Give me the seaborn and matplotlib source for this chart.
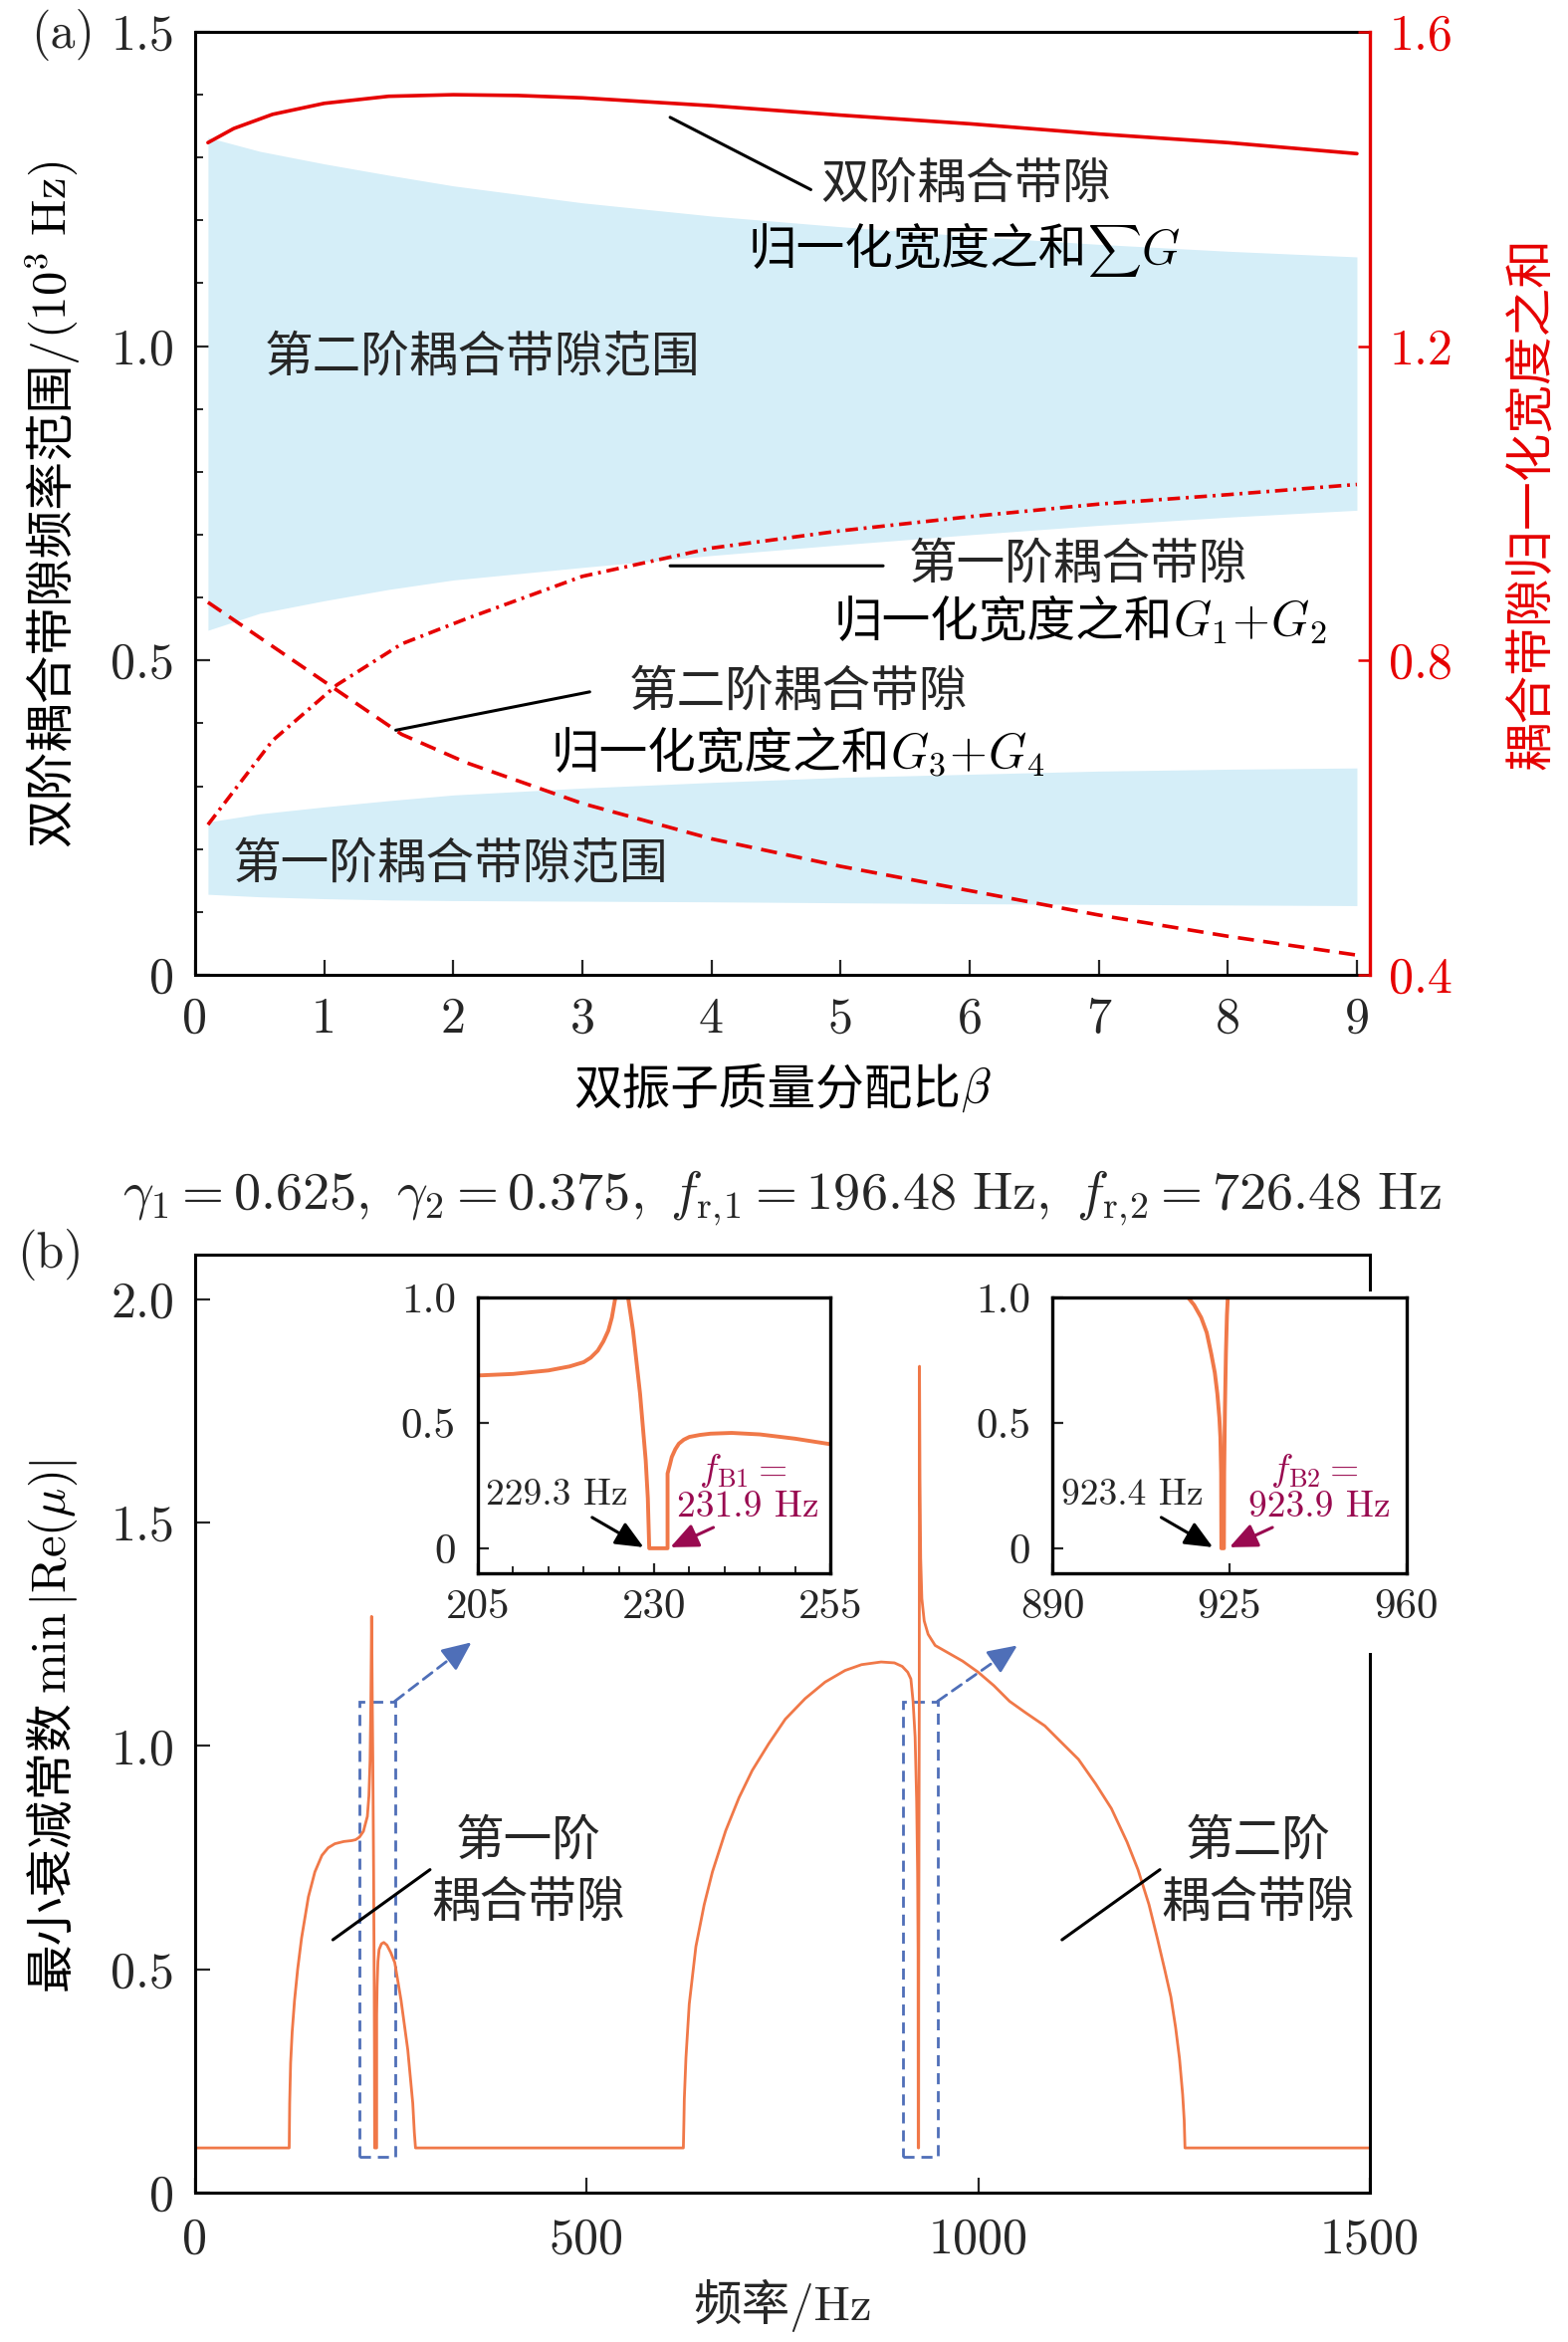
import matplotlib
matplotlib.use("Agg")
import matplotlib.pyplot as plt
import seaborn as sns
from matplotlib.patches import Rectangle
from matplotlib.ticker import MultipleLocator
from matplotlib.transforms import IdentityTransform

# ---------------- panel (a) data ----------------
beta_band = [0.1, 0.5, 1, 1.5, 2, 3, 4, 5, 6, 7, 8, 9]
band2_upper = [1.332, 1.31, 1.29, 1.272, 1.255, 1.228, 1.207, 1.19, 1.175, 1.162, 1.151, 1.142]
band2_lower = [0.548, 0.575, 0.595, 0.613, 0.628, 0.648, 0.667, 0.684, 0.70, 0.715, 0.728, 0.739]
band1_upper = [0.243, 0.256, 0.267, 0.277, 0.286, 0.297, 0.306, 0.314, 0.319, 0.324, 0.327, 0.329]
band1_lower = [0.128, 0.124, 0.121, 0.119, 0.118, 0.117, 0.116, 0.1145, 0.113, 0.112, 0.111, 0.110]

beta_sum = [0.1, 0.3, 0.6, 1.0, 1.5, 2.0, 2.5, 3, 4, 5, 6, 7, 8, 9]
sum_G = [1.459, 1.477, 1.495, 1.509, 1.518, 1.520, 1.519, 1.516, 1.506, 1.494, 1.483, 1.470, 1.459, 1.445]

beta_g = [0.1, 0.6, 1.1, 1.6, 2.1, 3, 4, 5, 6, 7, 8, 9]
G12 = [0.591, 0.698, 0.769, 0.821, 0.853, 0.907, 0.943, 0.965, 0.983, 0.999, 1.011, 1.024]
G34 = [0.874, 0.818, 0.762, 0.706, 0.670, 0.618, 0.573, 0.538, 0.507, 0.476, 0.449, 0.425]

x_ticks_a = [0, 1, 2, 3, 4, 5, 6, 7, 8, 9]
y_ticks_a = [0, 0.5, 1.0, 1.5]
y_labels_a = ["0", "0.5", "1.0", "1.5"]
y2_ticks_a = [0.4, 0.8, 1.2, 1.6]
y2_labels_a = ["0.4", "0.8", "1.2", "1.6"]

# ---------------- panel (b) data ----------------
freq_hz = [0, 120.2, 120.8, 122.0, 124.0, 127.0, 131.0, 136.0, 144.7, 153.0, 162.0, 170.0,
           178.5, 190.0, 200.0, 205.0, 210.0, 215.0, 220.0, 222.0, 223.5, 224.5, 225.0,
           225.4, 225.9, 226.3, 227.0, 228.0, 228.8, 229.1, 229.3, 231.9, 231.9, 232.5,
           233.5, 235.0, 238.0, 241.0, 245.0, 250.0, 255.0, 263.0, 271.6, 278.0, 280.0,
           281.5,
           623.5, 624.2, 624.7, 626.8, 631.0, 639.5, 650.0, 660.6, 677.5, 694.5, 711.4,
           732.5, 753.7, 779.0, 804.5, 830.0, 851.0, 876.0, 893.0, 903.0, 910.0, 914.0,
           916.8, 919.4, 921.4, 922.6, 923.2, 923.4, 923.9, 924.0, 924.3, 924.7, 925.0,
           925.6, 926.5, 928.0, 931.0, 936.0, 945.0, 960.0, 980.0, 1000.0, 1020.0,
           1040.0, 1060.0, 1085.0, 1105.0, 1128.0, 1150.0, 1170.0, 1190.0, 1204.0,
           1218.0, 1229.0, 1238.0, 1246.0, 1252.0, 1257.0, 1261.0, 1263.0, 1264.0, 1500.0]
min_re_mu = [0.1, 0.1, 0.2, 0.29, 0.36, 0.43, 0.5, 0.57, 0.662, 0.718, 0.755, 0.772,
             0.781, 0.786, 0.788, 0.790, 0.796, 0.809, 0.842, 0.888, 0.968, 1.1, 1.2,
             1.29, 1.2, 1.1, 0.968, 0.716, 0.451, 0.3, 0.1, 0.1, 0.398, 0.464,
             0.517, 0.544, 0.557, 0.56, 0.554, 0.537, 0.515, 0.431, 0.32, 0.2, 0.135,
             0.1,
             0.1, 0.16, 0.209, 0.302, 0.422, 0.551, 0.644, 0.718, 0.81, 0.884, 0.945,
             1.005, 1.06, 1.106, 1.143, 1.169, 1.182, 1.188, 1.186, 1.178, 1.165, 1.15,
             1.1, 1.02, 0.875, 0.716, 0.544, 0.1, 0.1, 0.45, 0.75, 1.1, 1.85,
             1.6, 1.42, 1.33, 1.28, 1.25, 1.225, 1.21, 1.19, 1.165, 1.135,
             1.10, 1.075, 1.045, 1.01, 0.97, 0.915, 0.86, 0.785, 0.723,
             0.645, 0.567, 0.5, 0.438, 0.37, 0.3, 0.22, 0.162, 0.1, 0.1]

# inset 1 (205-255 Hz)
freq_in1 = [205, 210, 215, 218, 220, 221, 222, 222.8, 223.5, 224.0, 224.5, 225.0, 225.4,
            225.9, 226.3, 227.0, 228.0, 228.8, 229.1, 229.3, 231.9, 231.9, 232.2, 232.5,
            233.0, 233.5, 234.2, 235.0, 236.5, 238.0, 241.0, 245.0, 250.0, 255.0]
val_in1 = [0.689, 0.695, 0.709, 0.725, 0.742, 0.76, 0.788, 0.825, 0.868, 0.92, 1.0, 1.1, 1.19,
           1.1, 1.0, 0.868, 0.616, 0.351, 0.2, 0.0, 0.0, 0.298, 0.33, 0.364,
           0.395, 0.417, 0.433, 0.444, 0.452, 0.457, 0.46, 0.454, 0.437, 0.415]
# inset 2 (890-960 Hz)
freq_in2 = [916.0, 916.8, 918.0, 919.4, 920.5, 921.4, 922.1, 922.6, 923.0, 923.2, 923.35,
            923.4, 923.9, 923.95, 924.1, 924.3, 924.5, 924.67, 924.9]
val_in2 = [1.05, 1.0, 0.97, 0.92, 0.86, 0.775, 0.70, 0.616, 0.52, 0.444, 0.3,
           0.0, 0.0, 0.3, 0.55, 0.78, 0.93, 1.0, 1.4]

x_ticks_b = [0, 500, 1000, 1500]
x_labels_b = ["0", "500", "1000", "1500"]
y_ticks_b = [0, 0.5, 1.0, 1.5, 2.0]
y_labels_b = ["0", "0.5", "1.0", "1.5", "2.0"]
in1_ticks = [205, 230, 255]
in2_ticks = [890, 925, 960]
in_yticks = [0, 0.5, 1.0]
in_ylabels = ["0", "0.5", "1.0"]

# ---------------- style ----------------
sns.set_style("ticks")
plt.rcParams["font.family"] = ["cmr10", "Noto Sans CJK SC", "DejaVu Sans"]
plt.rcParams["mathtext.fontset"] = "cm"
plt.rcParams["axes.formatter.use_mathtext"] = True
plt.rcParams["axes.unicode_minus"] = False

RED = "#e60000"
ORANGE = "#f07848"
BLUE = "#4f6fb8"
BAND = "#d5eef8"
MAG = "#990a50"
FS = 35
TFS = 36

fig = plt.figure(figsize=(15.75, 23.52), dpi=100)
renderer = fig.canvas.get_renderer()
W = fig.bbox.width
H = fig.bbox.height


def pair_text(x_px, y_px, parts, fontsize, color="black", rotation=0, sizes=None):
    """Centred line made of several pieces (plain CJK text and mathtext), in pixels."""
    if sizes is None:
        sizes = [fontsize] * len(parts)
    texts, lengths = [], []
    for p, fs in zip(parts, sizes):
        t = fig.text(0, 0, p, fontsize=fs, color=color, rotation=0,
                     rotation_mode="anchor", ha="left", va="baseline",
                     transform=IdentityTransform())
        lengths.append(t.get_window_extent(renderer).width)
        t.set_rotation(rotation)
        texts.append(t)
    total = sum(lengths)
    em = fontsize * fig.dpi / 72.0
    pos = -total / 2.0
    for t, L in zip(texts, lengths):
        if rotation == 90:
            t.set_position((x_px + 0.37 * em, y_px + pos))
        else:
            t.set_position((x_px + pos, y_px - 0.37 * em))
        pos += L
    return lengths


def data_px(ax, x, y):
    return ax.transData.transform((x, y))


axA = fig.add_axes([0.1244, 0.5838, 0.7492, 0.4026])
axB = fig.add_axes([0.1244, 0.0638, 0.7492, 0.4005])

# ---------------- panel (a) ----------------
axA.fill_between(beta_band, band2_lower, band2_upper, color=BAND, lw=0)
axA.fill_between(beta_band, band1_lower, band1_upper, color=BAND, lw=0)
axA.set_xlim(0, 9.1)
axA.set_ylim(0, 1.5)
axA.set_xticks(x_ticks_a)
axA.set_xticklabels([str(v) for v in x_ticks_a])
axA.set_yticks(y_ticks_a)
axA.set_yticklabels(y_labels_a)
axA.yaxis.set_minor_locator(MultipleLocator(0.1))
axA.tick_params(axis="both", which="major", direction="in", length=11, width=1.6,
                labelsize=TFS, top=False, right=False)
axA.tick_params(axis="x", pad=16)
axA.tick_params(axis="y", pad=15)
axA.tick_params(axis="y", which="minor", direction="in", length=6, width=1.4, right=False)
axA.tick_params(axis="x", which="minor", bottom=False, top=False)
for s in axA.spines.values():
    s.set_linewidth(2.2)
    s.set_color("black")
axA.spines["right"].set_visible(False)

axA2 = axA.twinx()
axA2.set_ylim(0.4, 1.6)
sns.lineplot(x=beta_sum, y=sum_G, ax=axA2, color=RED, lw=2.6, estimator=None, sort=False)
sns.lineplot(x=beta_g, y=G12, ax=axA2, color=RED, lw=2.6, estimator=None, sort=False,
             linestyle=(0, (3.5, 1.6, 0.8, 1.6)))
sns.lineplot(x=beta_g, y=G34, ax=axA2, color=RED, lw=2.6, estimator=None, sort=False,
             linestyle=(0, (4.5, 2.6)))
axA2.set_ylabel("")
axA2.set_yticks(y2_ticks_a)
axA2.set_yticklabels(y2_labels_a)
axA2.tick_params(axis="y", direction="in", length=9, width=1.8, colors=RED,
                 labelsize=TFS, pad=14)
axA2.yaxis.set_minor_locator(plt.NullLocator())
for k in ["left", "top", "bottom"]:
    axA2.spines[k].set_visible(False)
axA2.spines["right"].set_color(RED)
axA2.spines["right"].set_linewidth(2.4)

lead = dict(arrowstyle="-", color="black", lw=2.2, shrinkA=0, shrinkB=0)
axA.annotate("", xy=(3.68, 1.364), xytext=(4.77, 1.249), arrowprops=lead)
axA.text(5.97, 1.2565, "双阶耦合带隙", fontsize=FS, ha="center", va="center")
pair_text(*data_px(axA, 5.96, 1.160), ["归一化宽度之和", r"$\sum$", r"$G$"], FS,
          sizes=[FS, 27, FS])
axA.text(0.54, 0.982, "第二阶耦合带隙范围", fontsize=FS, ha="left", va="center")
axA.annotate("", xy=(3.68, 0.6505), xytext=(5.33, 0.6505), arrowprops=lead)
axA.text(6.84, 0.6505, "第一阶耦合带隙", fontsize=FS, ha="center", va="center")
pair_text(*data_px(axA, 6.86, 0.567), ["归一化宽度之和", r"$G_1\!+\!G_2$"], FS)
axA.annotate("", xy=(1.555, 0.389), xytext=(3.057, 0.450), arrowprops=lead)
axA.text(4.67, 0.448, "第二阶耦合带隙", fontsize=FS, ha="center", va="center")
pair_text(*data_px(axA, 4.67, 0.359), ["归一化宽度之和", r"$G_3\!+\!G_4$"], FS)
axA.text(0.294, 0.1745, "第一阶耦合带隙范围", fontsize=FS, ha="left", va="center")

fig.text(0.0197, 0.985, "(a)", fontsize=TFS, ha="left", va="center")
pair_text(0.0305 * W, 0.785 * H,
          ["双阶耦合带隙频率范围/", r"$(10^3\ \mathrm{Hz})$"], FS, rotation=90)
fig.text(0.977, 0.785, "耦合带隙归一化宽度之和", fontsize=FS, rotation=90,
         ha="center", va="center", color=RED)
pair_text(0.499 * W, 0.5366 * H, ["双振子质量分配比", r"$\beta$"], FS)

# ---------------- panel (b) ----------------
sns.lineplot(x=freq_hz, y=min_re_mu, ax=axB, color=ORANGE, lw=2.0, estimator=None, sort=False)
axB.set_xlim(0, 1500)
axB.set_ylim(0, 2.1)
axB.set_xlabel("")
axB.set_ylabel("")
axB.set_xticks(x_ticks_b)
axB.set_xticklabels(x_labels_b)
axB.set_yticks(y_ticks_b)
axB.set_yticklabels(y_labels_b)
axB.tick_params(axis="both", direction="in", length=11, width=1.6, labelsize=TFS,
                top=False, right=False)
axB.tick_params(axis="x", pad=18)
axB.tick_params(axis="y", pad=15)
for s in axB.spines.values():
    s.set_linewidth(2.2)
    s.set_color("black")

for (x0, x1) in [(210, 255), (904, 948)]:
    axB.add_patch(Rectangle((x0, 0.08), x1 - x0, 1.02, fill=False, ec=BLUE, lw=2.0,
                            ls=(0, (4, 2.5))))
for (start, tip) in [((255, 1.1), (353, 1.232)), ((948, 1.1), (1050, 1.225))]:
    mid = (start[0] + 0.72 * (tip[0] - start[0]), start[1] + 0.72 * (tip[1] - start[1]))
    axB.annotate("", xy=mid, xytext=start,
                 arrowprops=dict(arrowstyle="-", color=BLUE, lw=2.0, ls=(0, (4, 2.5)),
                                 shrinkA=0, shrinkB=0))
    axB.annotate("", xy=tip, xytext=mid,
                 arrowprops=dict(arrowstyle="-|>,head_length=0.45,head_width=0.2",
                                 color=BLUE, lw=2.0, shrinkA=0, shrinkB=0,
                                 mutation_scale=40))

axB.annotate("", xy=(176, 0.566), xytext=(300, 0.723), arrowprops=lead)
axB.text(425, 0.784, "第一阶", fontsize=FS, ha="center", va="center")
axB.text(425, 0.646, "耦合带隙", fontsize=FS, ha="center", va="center")
axB.annotate("", xy=(1107, 0.566), xytext=(1232, 0.723), arrowprops=lead)
axB.text(1357, 0.784, "第二阶", fontsize=FS, ha="center", va="center")
axB.text(1357, 0.646, "耦合带隙", fontsize=FS, ha="center", va="center")

fig.text(0.499, 0.4885,
         r"$\gamma_1=0.625,\ \gamma_2=0.375,\ f_{\mathrm{r},\!1}=196.48\ \mathrm{Hz},\ f_{\mathrm{r},\!2}=726.48\ \mathrm{Hz}$",
         fontsize=39, ha="center", va="center")
fig.text(0.0108, 0.4643, "(b)", fontsize=TFS, ha="left", va="center")
pair_text(0.0305 * W, 0.2636 * H,
          ["最小衰减常数", r"$\,\mathrm{min}\,\vert\mathrm{Re}(\mu)\vert$"], FS, rotation=90)
fig.text(0.499, 0.0157, "频率/Hz", fontsize=FS, ha="center", va="center")

# white mask that interrupts the main frame behind the right inset
fig.add_artist(Rectangle((0.660, 0.2942), 0.25, 0.1544, transform=fig.transFigure,
                         facecolor="white", edgecolor="none", zorder=2))

ins1 = fig.add_axes([0.3048, 0.3282, 0.2248, 0.1178], zorder=3)
ins2 = fig.add_axes([0.6713, 0.3282, 0.2256, 0.1178], zorder=3)
sns.lineplot(x=freq_in1, y=val_in1, ax=ins1, color=ORANGE, lw=2.8, estimator=None, sort=False)
sns.lineplot(x=freq_in2, y=val_in2, ax=ins2, color=ORANGE, lw=2.8, estimator=None, sort=False)
ins1.set_xlim(205, 255)
ins2.set_xlim(890, 960)
ins1.set_xticks(in1_ticks)
ins1.set_xticklabels([str(v) for v in in1_ticks])
ins1.xaxis.set_minor_locator(MultipleLocator(5))
ins2.set_xticks(in2_ticks)
ins2.set_xticklabels([str(v) for v in in2_ticks])
for ins in (ins1, ins2):
    ins.set_ylim(-0.1, 1.0)
    ins.set_yticks(in_yticks)
    ins.set_yticklabels(in_ylabels)
    ins.set_xlabel("")
    ins.set_ylabel("")
    ins.set_facecolor("white")
    ins.tick_params(axis="both", which="major", direction="in", length=8, width=1.6,
                    labelsize=31, top=False, right=False)
    ins.tick_params(axis="x", which="major", length=7, pad=11)
    ins.tick_params(axis="y", pad=16)
    ins.tick_params(axis="x", which="minor", direction="in", length=5, width=1.4, top=False)
    for s in ins.spines.values():
        s.set_linewidth(2.4)
        s.set_color("black")

AFS = 27
blk = dict(arrowstyle="-|>,head_length=0.5,head_width=0.22", color="black", lw=2.2,
           shrinkA=0, shrinkB=0, mutation_scale=34)
mag = dict(arrowstyle="-|>,head_length=0.5,head_width=0.22", color=MAG, lw=2.2,
           shrinkA=0, shrinkB=0, mutation_scale=34)
ins1.text(216.2, 0.212, "229.3 Hz", fontsize=AFS, ha="center", va="center")
ins1.annotate("", xy=(228.5, 0.004), xytext=(221.2, 0.123), arrowprops=blk)
ins1.text(242.6, 0.311, r"$f_{\mathrm{B1}}=$", fontsize=AFS, ha="center", va="center", color=MAG)
ins1.text(243.3, 0.166, "231.9 Hz", fontsize=AFS, ha="center", va="center", color=MAG)
ins1.annotate("", xy=(232.3, 0.004), xytext=(238.4, 0.083), arrowprops=mag)

ins2.text(905.7, 0.212, "923.4 Hz", fontsize=AFS, ha="center", va="center")
ins2.annotate("", xy=(921.7, 0.004), xytext=(911.5, 0.123), arrowprops=blk)
ins2.text(941.8, 0.311, r"$f_{\mathrm{B2}}=$", fontsize=AFS, ha="center", va="center", color=MAG)
ins2.text(942.8, 0.166, "923.9 Hz", fontsize=AFS, ha="center", va="center", color=MAG)
ins2.annotate("", xy=(925.0, 0.004), xytext=(933.5, 0.083), arrowprops=mag)

fig.savefig("out.png", dpi=100)
